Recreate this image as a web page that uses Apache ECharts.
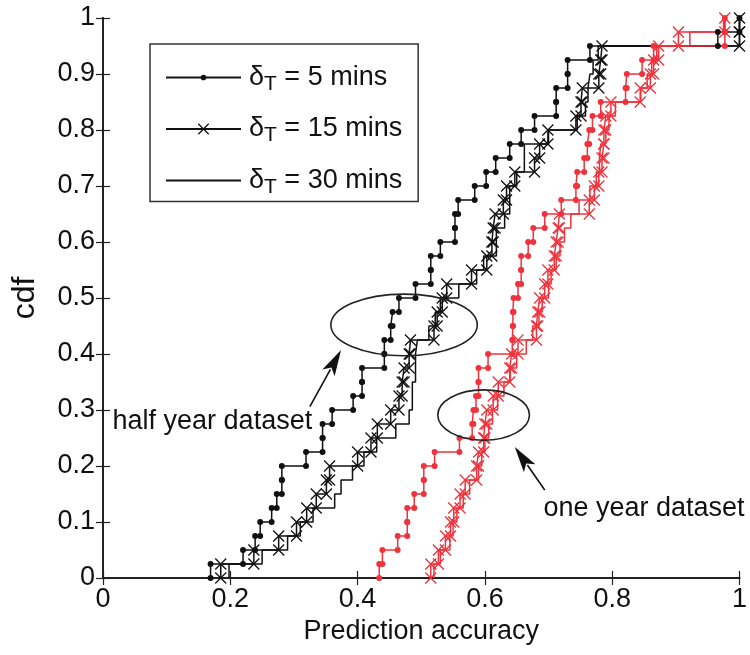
<!DOCTYPE html>
<html>
<head>
<meta charset="utf-8">
<script src="https://cdn.jsdelivr.net/npm/echarts@6/dist/echarts.min.js"></script>
<style>
  html, body { margin: 0; padding: 0; background: #fff; }
  #chart { width: 750px; height: 655px; }
</style>
</head>
<body>
<div id="chart"></div>
<script>
// Empirical cdf of prediction accuracy: sorted sample values for each run,
// and the cdf level reached after each sample.
const cdfSteps = [0.025, 0.05, 0.075, 0.1, 0.125, 0.15, 0.175, 0.2, 0.225, 0.25,
                  0.275, 0.3, 0.325, 0.35, 0.375, 0.4, 0.425, 0.45, 0.475, 0.5,
                  0.525, 0.55, 0.575, 0.6, 0.625, 0.65, 0.675, 0.7, 0.725, 0.75,
                  0.775, 0.8, 0.825, 0.85, 0.875, 0.9, 0.925, 0.95, 0.975, 1.0];

// half year dataset
const halfYear5 = [0.169, 0.220, 0.239, 0.247, 0.265, 0.273, 0.281, 0.281, 0.319, 0.345,
                   0.345, 0.360, 0.393, 0.407, 0.407, 0.442, 0.442, 0.452, 0.455, 0.465,
                   0.491, 0.515, 0.515, 0.530, 0.553, 0.553, 0.558, 0.584, 0.602, 0.617,
                   0.639, 0.657, 0.678, 0.712, 0.712, 0.730, 0.730, 0.765, 0.966, 1.000];
const halfYear15 = [0.185, 0.237, 0.276, 0.304, 0.320, 0.335, 0.351, 0.356, 0.400, 0.421,
                    0.431, 0.452, 0.465, 0.470, 0.473, 0.481, 0.483, 0.520, 0.525, 0.533,
                    0.540, 0.579, 0.603, 0.611, 0.613, 0.616, 0.629, 0.634, 0.647, 0.678,
                    0.686, 0.699, 0.743, 0.751, 0.753, 0.779, 0.782, 0.784, 1.000, 1.000];
const halfYear30 = [0.198, 0.250, 0.290, 0.310, 0.330, 0.364, 0.374, 0.392, 0.410, 0.430,
                    0.460, 0.481, 0.486, 0.486, 0.491, 0.491, 0.494, 0.512, 0.522, 0.530,
                    0.559, 0.587, 0.598, 0.618, 0.618, 0.631, 0.639, 0.639, 0.650, 0.662,
                    0.662, 0.700, 0.745, 0.758, 0.762, 0.765, 0.770, 0.778, 1.000, 1.000];

// one year dataset
const oneYear5 = [0.434, 0.439, 0.463, 0.478, 0.478, 0.489, 0.504, 0.504, 0.521, 0.560,
                  0.580, 0.582, 0.586, 0.590, 0.590, 0.605, 0.643, 0.644, 0.644, 0.645,
                  0.652, 0.657, 0.657, 0.668, 0.676, 0.694, 0.720, 0.743, 0.745, 0.756,
                  0.761, 0.764, 0.769, 0.782, 0.821, 0.823, 0.847, 0.865, 0.977, 0.977];
const oneYear15 = [0.515, 0.527, 0.538, 0.546, 0.551, 0.561, 0.569, 0.587, 0.590, 0.598,
                   0.600, 0.603, 0.613, 0.621, 0.639, 0.642, 0.652, 0.681, 0.683, 0.686,
                   0.694, 0.699, 0.709, 0.712, 0.715, 0.717, 0.764, 0.772, 0.779, 0.784,
                   0.787, 0.787, 0.790, 0.798, 0.844, 0.860, 0.865, 0.873, 0.904, 0.977];
const oneYear30 = [0.520, 0.530, 0.545, 0.550, 0.556, 0.566, 0.576, 0.590, 0.595, 0.600,
                   0.606, 0.612, 0.620, 0.630, 0.640, 0.650, 0.665, 0.675, 0.685, 0.690,
                   0.700, 0.704, 0.712, 0.718, 0.725, 0.735, 0.748, 0.765, 0.775, 0.780,
                   0.782, 0.790, 0.795, 0.805, 0.845, 0.855, 0.862, 0.870, 0.922, 0.975];

const seriesNames = ['5 mins', '15 mins', '30 mins'];
const xTickLabels = ['0', '0.2', '0.4', '0.6', '0.8', '1'];
const yTickLabels = ['0', '0.1', '0.2', '0.3', '0.4', '0.5', '0.6', '0.7', '0.8', '0.9', '1'];

const FONT = 'Liberation Sans, Arial, Helvetica, sans-serif';
const INK = '#111';
const BLACK = '#111';
const RED = '#f0323c';

// small filled dot; the two corner specks widen the box so the dot stays small
const DOT = 'path://M0,0h0.01M10,10h0.01M5,2.3a2.7,2.7 0 1,1 -0.001,0z';
const CROSS = 'path://M0,0L10,10M10,0L0,10';

// stair vertices of an empirical cdf: up at each sample, across to the next one
function stairs(xs, levels) {
  const pts = [];
  let prev = 0;
  for (let i = 0; i < xs.length; i++) {
    pts.push([xs[i], prev]);
    pts.push([xs[i], levels[i]]);
    prev = levels[i];
  }
  return pts;
}

function cdfSeries(name, xs, color, kind) {
  const s = {
    name: name,
    type: 'line',
    data: stairs(xs, cdfSteps),
    xAxisIndex: 0,
    yAxisIndex: 0,
    clip: false,
    animation: false,
    silent: true,
    emphasis: { disabled: true },
    lineStyle: { color: color, width: 1.5 },
    itemStyle: { color: color, borderWidth: 0 }
  };
  if (kind === 'dot') {
    s.symbol = DOT;
    s.symbolSize = 11;
    s.showSymbol = true;
  } else if (kind === 'cross') {
    s.symbol = CROSS;
    s.symbolSize = 11;
    s.showSymbol = true;
    s.itemStyle = { color: color, borderColor: color, borderWidth: 1.3 };
  } else {
    s.symbol = 'none';
  }
  return s;
}

const chart = echarts.init(document.getElementById('chart'), null, { renderer: 'canvas' });

const axisLine = { show: true, lineStyle: { color: '#222', width: 1.8 } };
const axisTick = { show: true, inside: true, length: 7, lineStyle: { color: '#222', width: 1.2 } };
const labelStyle = { color: INK, fontFamily: FONT, fontSize: 27 };

chart.setOption({
  backgroundColor: '#fff',
  animation: false,
  grid: { left: 103, right: 5, top: 18, bottom: 77, containLabel: false },
  xAxis: [
    {
      type: 'value', min: 0, max: 1, interval: 0.2, position: 'bottom',
      axisLine: axisLine, axisTick: axisTick, splitLine: { show: false },
      axisLabel: Object.assign({ margin: 8, formatter: v => xTickLabels[Math.round(v / 0.2)] }, labelStyle),
      name: 'Prediction accuracy', nameLocation: 'middle', nameGap: 40,
      nameTextStyle: { color: INK, fontFamily: FONT, fontSize: 27 }
    },
    {
      type: 'value', min: 0, max: 1, interval: 0.2, position: 'top',
      axisLine: axisLine, axisTick: axisTick, axisLabel: { show: false }, splitLine: { show: false }
    }
  ],
  yAxis: [
    {
      type: 'value', min: 0, max: 1, interval: 0.1, position: 'left',
      axisLine: axisLine, axisTick: axisTick, splitLine: { show: false },
      axisLabel: Object.assign({ margin: 8, formatter: v => yTickLabels[Math.round(v / 0.1)] }, labelStyle),
      name: 'cdf', nameLocation: 'middle', nameGap: 62, nameRotate: 90,
      nameTextStyle: { color: INK, fontFamily: FONT, fontSize: 32 }
    },
    {
      type: 'value', min: 0, max: 1, interval: 0.1, position: 'right',
      axisLine: axisLine, axisTick: axisTick, axisLabel: { show: false }, splitLine: { show: false }
    }
  ],
  legend: {
    left: 150, top: 44, orient: 'vertical',
    data: [
      { name: seriesNames[0] },
      { name: seriesNames[1] },
      { name: seriesNames[2], itemStyle: { color: 'rgba(0,0,0,0)', borderColor: 'rgba(0,0,0,0)' } }
    ],
    itemWidth: 75, itemHeight: 13, itemGap: 21,
    padding: [20, 16, 4, 15],
    backgroundColor: '#fff',
    borderColor: '#333', borderWidth: 1.5, borderRadius: 0,
    selectedMode: false,
    itemStyle: { borderWidth: 1.3 },
    formatter: name => '{g|δ}{s|T}{g| = ' + name + '}',
    textStyle: {
      padding: [0, 0, 0, 3],
      rich: {
        g: { fontFamily: FONT, fontSize: 27, color: INK, lineHeight: 34 },
        s: { fontFamily: FONT, fontSize: 21, color: INK, lineHeight: 16, verticalAlign: 'bottom' }
      }
    }
  },
  series: [
    cdfSeries(seriesNames[0], halfYear5, BLACK, 'dot'),
    cdfSeries(seriesNames[1], halfYear15, BLACK, 'cross'),
    cdfSeries(seriesNames[2], halfYear30, BLACK, 'plain'),
    cdfSeries(seriesNames[0], oneYear5, RED, 'dot'),
    cdfSeries(seriesNames[1], oneYear15, RED, 'cross'),
    cdfSeries(seriesNames[2], oneYear30, RED, 'plain')
  ]
});

// Callouts, placed in data units and converted through the axes
const callouts = {
  halfEllipse: { x: 0.473, y: 0.452, rx: 0.115, ry: 0.055 },
  oneEllipse: { x: 0.598, y: 0.291, rx: 0.072, ry: 0.045 },
  halfArrow: { from: [0.325, 0.306], to: [0.374, 0.407] },
  oneArrow: { from: [0.694, 0.157], to: [0.647, 0.234] },
  halfText: { x: 0.015, y: 0.28, text: 'half year dataset' },
  oneText: { x: 0.692, y: 0.124, text: 'one year dataset' }
};

function px(p) { return chart.convertToPixel({ xAxisIndex: 0, yAxisIndex: 0 }, p); }

function ellipse(e) {
  const c = px([e.x, e.y]);
  const r = px([e.x + e.rx, e.y + e.ry]);
  return {
    type: 'ellipse', silent: true, z: 100,
    shape: { cx: c[0], cy: c[1], rx: r[0] - c[0], ry: c[1] - r[1] },
    style: { fill: 'none', stroke: '#222', lineWidth: 1.6 }
  };
}

function arrow(a) {
  const p0 = px(a.from), p1 = px(a.to);
  const dx = p1[0] - p0[0], dy = p1[1] - p0[1];
  const len = Math.sqrt(dx * dx + dy * dy);
  const ux = dx / len, uy = dy / len;
  const head = 26, half = 7;
  const bx = p1[0] - ux * head, by = p1[1] - uy * head;
  return [
    {
      type: 'line', silent: true, z: 100,
      shape: { x1: p0[0], y1: p0[1], x2: bx + ux * 4, y2: by + uy * 4 },
      style: { stroke: '#111', lineWidth: 1.6 }
    },
    {
      type: 'polygon', silent: true, z: 100,
      shape: { points: [[p1[0], p1[1]], [bx - uy * half, by + ux * half], [bx + ux * 6, by + uy * 6], [bx + uy * half, by - ux * half]] },
      style: { fill: '#111' }
    }
  ];
}

function label(t) {
  const p = px([t.x, t.y]);
  return {
    type: 'text', silent: true, z: 100,
    x: p[0], y: p[1],
    style: { text: t.text, fill: INK, fontFamily: FONT, fontSize: 27, align: 'left', verticalAlign: 'middle' }
  };
}

chart.setOption({
  graphic: [
    ellipse(callouts.halfEllipse),
    ellipse(callouts.oneEllipse),
    ...arrow(callouts.halfArrow),
    ...arrow(callouts.oneArrow),
    label(callouts.halfText),
    label(callouts.oneText)
  ]
});
</script>
</body>
</html>
